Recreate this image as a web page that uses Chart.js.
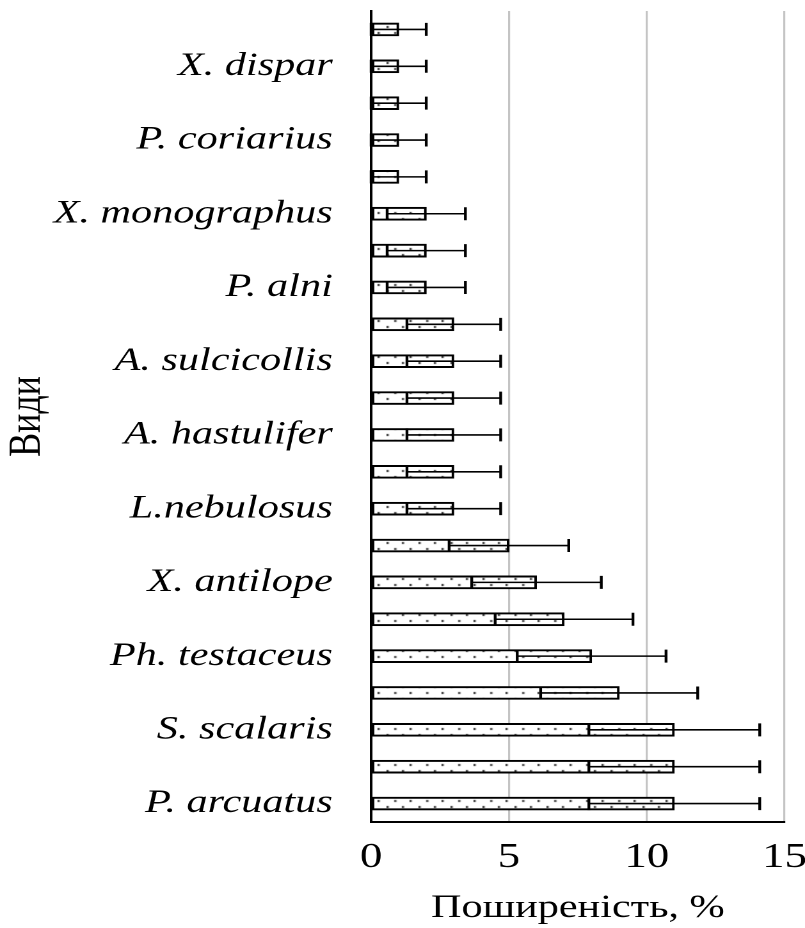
<!DOCTYPE html>
<html>
<head>
<meta charset="utf-8">
<script src="https://cdn.jsdelivr.net/npm/chart.js@4"></script>
<style>
  html, body { margin: 0; padding: 0; background: #fff; overflow: hidden; }
  /* the original figure is stretched sideways, so the canvas is too */
  #chart { width: 805px !important; height: 928px !important; display: block; }
</style>
</head>
<body>
<canvas id="chart" width="629" height="928"></canvas>
<script>
// species, top to bottom (only every second row is labelled in the original)
const species = [
    '', 'X. dispar', '', 'P. coriarius', '', 'X. monographus', '', 'P. alni',
    '', 'A. sulcicollis', '', 'A. hastulifer', '', 'L.nebulosus', '', 'X. antilope',
    '', 'Ph. testaceus', '', 'S. scalaris', '', 'P. arcuatus'
];
// prevalence, %
const prevalence = [1, 1, 1, 1, 1, 2, 2, 2, 3, 3, 3, 3, 3, 3, 5, 6, 7, 8, 9, 11, 11, 11];
// error (+/-), %
const errors = [1, 1, 1, 1, 1, 1.42, 1.42, 1.42, 1.7, 1.7, 1.7, 1.7, 1.7, 1.7,
    2.17, 2.35, 2.5, 2.7, 2.85, 3.1, 3.1, 3.1];
const xTicks = [0, 5, 10, 15];

const serif = '"Liberation Serif", "DejaVu Serif", serif';

// sparse dotted fill like the Excel pattern
function makeDots() {
    const c = document.createElement('canvas');
    c.width = 25;
    c.height = 12;
    const g = c.getContext('2d');
    g.fillStyle = '#fff';
    g.fillRect(0, 0, 25, 12);
    g.fillStyle = '#222';
    [[2, 2], [14, 2], [8, 8], [20, 8]].forEach(([x, y]) => g.fillRect(x, y, 1.6, 2));
    return g.createPattern(c, 'repeat');
}

// error bars drawn on top of the bars
const errorBars = {
    id: 'errorBars',
    afterDatasetsDraw(chart) {
        const x = chart.scales.x;
        const meta = chart.getDatasetMeta(0);
        const ctx = chart.ctx;
        ctx.save();
        ctx.strokeStyle = '#000';
        meta.data.forEach((bar, i) => {
            const lo = x.getPixelForValue(prevalence[i] - errors[i]);
            const hi = x.getPixelForValue(prevalence[i] + errors[i]);
            const h = bar.height / 2;
            ctx.lineWidth = 1.6;
            ctx.beginPath();
            ctx.moveTo(lo, bar.y);
            ctx.lineTo(hi, bar.y);
            ctx.stroke();
            ctx.lineWidth = 2.2;
            ctx.beginPath();
            ctx.moveTo(lo, bar.y - h);
            ctx.lineTo(lo, bar.y + h);
            ctx.moveTo(hi, bar.y - h);
            ctx.lineTo(hi, bar.y + h);
            ctx.stroke();
        });
        ctx.restore();
    }
};

const ctx = document.getElementById('chart').getContext('2d');

new Chart(ctx, {
    type: 'bar',
    data: {
        labels: species,
        datasets: [{
            data: prevalence,
            backgroundColor: makeDots(),
            borderColor: '#000',
            borderWidth: 2,
            borderSkipped: false,
            barThickness: 13
        }]
    },
    options: {
        indexAxis: 'y',
        responsive: false,
        devicePixelRatio: 2,
        animation: false,
        layout: { padding: { top: 11, right: 16, left: 0, bottom: 0 } },
        plugins: {
            legend: { display: false },
            tooltip: { enabled: false }
        },
        scales: {
            x: {
                min: 0,
                max: 15,
                afterBuildTicks: (s) => { s.ticks = xTicks.map(v => ({ value: v })); },
                afterFit: (s) => {
                    s.height = 106;
                    s.paddingLeft = 0;
                    s.paddingRight = 0;
                },
                grid: {
                    color: (c) => c.tick.value === 0 ? 'rgba(0,0,0,0)' : '#c4c4c4',
                    lineWidth: 1.6,
                    drawTicks: false
                },
                border: { display: true, color: '#000', width: 2 },
                ticks: {
                    color: '#000',
                    padding: 15,
                    maxRotation: 0,
                    font: { family: serif, size: 35 }
                },
                title: {
                    display: true,
                    text: 'Поширеність, %',
                    color: '#000',
                    padding: { top: 0, bottom: 0 },
                    font: { family: serif, size: 33 }
                }
            },
            y: {
                afterFit: (s) => {
                    s.width = 290;
                    s.paddingTop = 0;
                    s.paddingBottom = 0;
                },
                grid: { display: false, drawTicks: false },
                border: { display: true, color: '#000', width: 2 },
                ticks: {
                    autoSkip: false,
                    color: '#000',
                    padding: 30,
                    font: { family: serif, size: 33, style: 'italic' }
                },
                title: {
                    display: true,
                    text: 'Види',
                    color: '#000',
                    padding: { top: 0, bottom: 0 },
                    font: { family: serif, size: 36 }
                }
            }
        }
    },
    plugins: [errorBars]
});
</script>
</body>
</html>
